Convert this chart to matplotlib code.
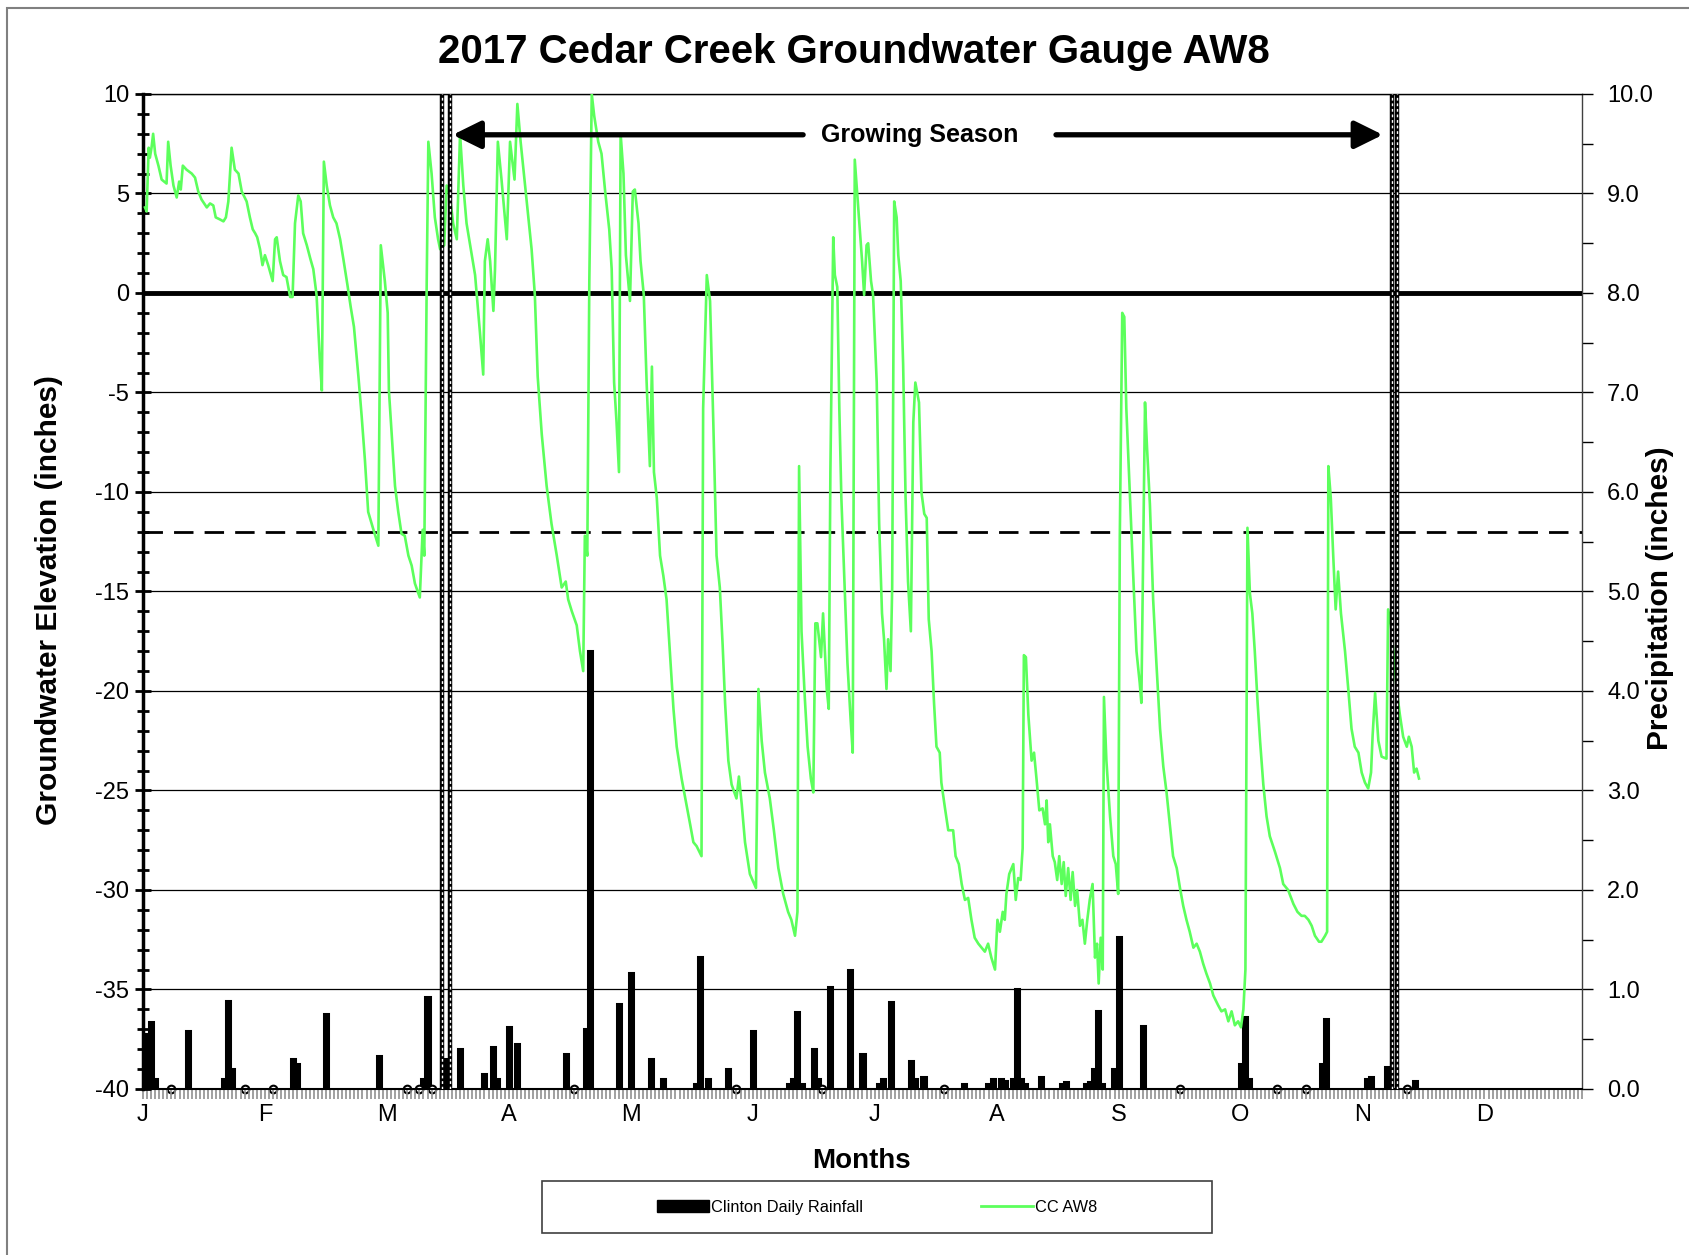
import matplotlib
matplotlib.use("Agg")
import matplotlib.pyplot as plt
from matplotlib.patches import Patch, Rectangle
from matplotlib.lines import Line2D
import numpy as np

plt.rcParams['font.family'] = ['Liberation Sans', 'DejaVu Sans']
plt.rcParams['axes.unicode_minus'] = False

# groundwater level (inches) by day of record
gw_day = [0.5, 0.9, 1.4, 1.7, 2.1, 2.5, 3.0, 3.8, 4.6, 5.8, 6.2, 6.8, 7.5, 8.3, 8.9, 9.3, 9.8, 10.7,
          12.0, 12.8, 13.6, 14.4, 15.7, 16.5, 17.3, 17.9, 18.9, 19.8, 20.4, 21.0, 21.8, 22.6, 23.5,
          24.3, 25.5, 26.3, 27.0, 27.6, 28.1, 28.8, 29.4, 30.0, 30.8, 31.9, 32.5, 32.9, 33.7, 34.5,
          35.3, 36.2, 36.8, 37.4, 38.2, 38.8, 39.4, 40.3, 41.2, 41.9, 42.7, 43.5, 44.0, 44.5, 45.2,
          46.0, 46.8, 47.6, 48.5, 49.3, 50.3, 51.1, 51.9, 53.0, 53.8, 54.6, 55.4, 56.7, 57.9, 58.5,
          59.5, 60.2, 60.5, 61.2, 62.0, 62.8, 63.6, 64.4, 65.3, 66.1, 66.9, 68.1, 68.8, 69.2, 69.8,
          70.2, 71.0, 71.8, 72.6, 73.1, 74.1, 74.7, 75.5, 76.3, 77.2, 78.0, 78.8, 79.6, 80.4, 81.7,
          82.9, 83.7, 84.1, 84.8, 85.4, 86.2, 86.6, 87.3, 88.2, 89.5, 90.3, 91.4, 92.1, 92.9, 94.0,
          94.8, 95.6, 96.4, 97.1, 98.1, 99.3, 100.5, 101.8, 103.0, 104.0, 104.6, 105.5, 106.7, 107.5,
          108.3, 108.7, 109.3, 109.8, 110.4, 111.0, 112.0, 112.8, 113.7, 114.7, 115.3, 115.9, 116.5,
          117.1, 117.5, 118.2, 118.8, 119.8, 120.5, 121.0, 121.9, 122.4, 123.2, 123.9, 124.7, 125.2,
          125.7, 126.4, 127.2, 128.0, 128.8, 129.6, 130.5, 131.3, 132.5, 133.7, 134.6, 135.4, 136.2,
          137.4, 137.8, 138.7, 139.5, 140.3, 141.1, 141.9, 142.6, 143.2, 144.0, 144.8, 146.0, 146.6,
          147.3, 148.1, 149.3, 150.8, 151.4, 152.2, 153.0, 154.2, 155.2, 156.3, 157.5, 158.7, 159.5,
          160.4, 161.0, 161.4, 162.0, 162.8, 163.5, 164.3, 164.9, 165.4, 165.9, 166.8, 167.3, 168.2,
          168.7, 169.1, 169.8, 170.2, 170.8, 171.3, 171.8, 172.5, 173.3, 174.1, 174.6, 175.1, 175.9,
          176.9, 177.4, 178.0, 178.4, 179.1, 179.6, 180.5, 181.1, 181.8, 182.3, 182.9, 183.3, 183.9,
          184.3, 184.8, 185.4, 185.8, 186.4, 187.0, 187.6, 188.2, 188.9, 189.5, 190.0, 190.9, 191.5,
          192.2, 192.8, 193.3, 194.0, 194.6, 195.2, 196.0, 196.4, 197.3, 198.1, 199.3, 199.9, 200.7,
          201.4, 202.2, 203.0, 203.8, 204.6, 205.5, 206.3, 207.1, 207.9, 208.7, 209.6, 210.2, 210.8,
          211.5, 212.0, 212.4, 213.1, 214.1, 214.7, 215.3, 215.9, 216.4, 216.7, 217.2, 217.8, 218.6,
          219.2, 219.8, 220.5, 221.3, 221.9, 222.3, 222.7, 223.1, 223.8, 224.3, 224.9, 225.4, 226.0,
          226.5, 227.0, 227.6, 228.2, 228.7, 229.3, 229.8, 230.5, 231.1, 231.7, 232.3, 232.9, 233.6,
          234.2, 234.7, 235.1, 235.6, 236.1, 236.4, 237.0, 237.9, 238.7, 239.3, 239.9, 240.3, 240.9,
          241.4, 241.9, 242.8, 243.6, 244.4, 245.2, 245.6, 246.5, 247.0, 247.7, 248.5, 249.3, 250.2,
          251.0, 251.8, 252.6, 253.4, 254.3, 255.1, 255.9, 256.7, 257.5, 258.4, 259.2, 260.0, 260.8,
          261.6, 262.5, 263.3, 264.5, 265.3, 266.2, 267.0, 267.8, 268.6, 269.4, 270.1, 270.7, 271.2,
          271.7, 272.3, 272.9, 273.5, 274.2, 274.8, 275.6, 276.4, 277.2, 278.5, 279.7, 280.5, 281.7,
          283.0, 284.0, 285.0, 285.8, 286.7, 287.5, 288.3, 289.3, 289.9, 290.8, 291.3, 291.6, 292.2,
          292.8, 293.4, 294.0, 294.7, 295.7, 296.5, 297.3, 298.1, 299.0, 299.8, 300.6, 301.4, 302.1,
          302.5, 303.1, 303.9, 304.7, 305.9, 306.3, 307.0, 307.6, 308.4, 309.2, 310.0, 310.9, 311.4,
          312.1, 312.7, 313.3, 313.9]
gw_level = [4.3, 4.1, 7.3, 6.8, 7.3, 8.0, 7.0, 6.4, 5.7, 5.5, 7.6, 6.4, 5.4, 4.8, 5.6, 5.2, 6.4, 6.2,
            6.0, 5.8, 5.1, 4.7, 4.3, 4.5, 4.4, 3.8, 3.7, 3.6, 3.8, 4.6, 7.3, 6.2, 6.0,
            5.1, 4.6, 3.8, 3.2, 3.0, 2.8, 2.2, 1.4, 1.9, 1.4, 0.6, 2.7, 2.8, 1.6, 0.9,
            0.8, -0.2, -0.2, 3.5, 4.9, 4.6, 3.0, 2.4, 1.7, 1.2, -0.1, -3.3, -4.9, 6.6, 5.4,
            4.4, 3.8, 3.5, 2.7, 1.7, 0.4, -0.7, -1.7, -4.2, -6.2, -8.4, -11.0, -11.9, -12.7, 2.4,
            0.6, -1.0, -4.9, -7.1, -9.7, -11.0, -12.1, -12.2, -13.2, -13.7, -14.6, -15.3, -11.9, -13.2, 0.6,
            7.6, 6.0, 3.8, 2.7, 2.2, 2.4, 5.4, 4.9, 3.5, 2.7, 8.0, 5.4, 3.5, 2.5, 0.9,
            -2.0, -4.1, 1.6, 2.7, 1.6, -0.9, 1.2, 7.6, 5.7, 2.7, 7.6, 5.7, 9.5, 7.6, 5.4,
            3.8, 2.2, -0.1, -4.2, -7.1, -9.7, -11.6, -13.2, -14.8, -14.5, -15.4, -16.0, -16.7, -18.0,
            -19.0, -12.2, -13.2, 0.6, 10.0, 8.9, 7.6, 7.0, 5.1, 3.2, 1.2, -4.5, -6.5,
            -9.0, 8.0, 6.0, 1.9, -0.4, 5.1, 5.2, 3.5, 1.6, -0.1, -4.5, -8.7, -3.7,
            -9.0, -10.3, -13.2, -14.2, -15.4, -18.0, -20.9, -22.8, -24.4, -25.7, -26.7, -27.6, -27.8,
            -28.3, -5.8, 0.9, -0.4, -6.5, -13.2, -14.8, -17.7, -20.6, -23.5, -24.7, -25.4, -24.3,
            -25.7, -27.6, -29.2, -29.9, -19.9, -22.5, -24.1, -25.4, -27.0, -28.9, -30.2, -31.1, -31.5,
            -32.3, -31.1, -8.7, -17.0, -20.3, -22.8, -24.4, -25.1, -16.6, -16.6, -18.3, -16.1, -19.9,
            -20.9, -9.0, 2.8, 0.9, 0.3, -5.8, -10.3, -14.2, -18.6, -21.5, -23.1, 6.7, 4.4,
            1.6, -0.1, 2.4, 2.5, 0.6, -0.1, -4.5, -11.6, -16.1, -17.4, -19.9, -17.4, -19.0,
            -14.8, 4.6, 3.8, 1.9, 0.6, -3.6, -10.3, -14.5, -17.0, -6.5, -4.5, -5.5, -10.0,
            -11.1, -11.3, -16.4, -18.0, -20.6, -22.8, -23.1, -24.6, -25.9, -27.0, -27.0, -28.3, -28.7,
            -29.7, -30.5, -30.4, -31.5, -32.4, -32.7, -32.9, -33.1, -32.7, -33.4, -34.0, -31.5, -32.1,
            -31.1, -31.5, -30.2, -29.2, -28.7, -30.5, -29.4, -29.5, -27.9, -18.2, -18.3, -21.2, -23.5,
            -23.1, -24.4, -26.0, -25.9, -26.7, -25.5, -27.6, -26.7, -28.3, -28.6, -29.5, -28.3, -29.7,
            -28.6, -30.3, -28.9, -30.5, -29.1, -30.8, -30.0, -31.8, -31.5, -32.7, -31.5, -30.5, -29.7,
            -33.4, -32.7, -34.7, -32.4, -34.0, -20.3, -23.5, -26.3, -28.3, -28.7, -30.2, -12.2, -1.0,
            -1.2, -5.8, -10.3, -14.2, -18.0, -19.6, -20.6, -5.5, -7.8, -10.6, -15.4, -18.6, -21.9,
            -23.8, -25.1, -26.7, -28.3, -28.9, -29.9, -30.8, -31.5, -32.1, -32.9, -32.7, -33.1, -33.7,
            -34.2, -34.7, -35.3, -35.8, -36.1, -36.0, -36.6, -36.1, -36.8, -36.6, -36.9, -36.0, -34.0,
            -11.8, -15.1, -16.1, -18.0, -20.6, -22.5, -24.7, -26.3, -27.3, -28.1, -28.9, -29.7, -30.0,
            -30.7, -31.1, -31.3, -31.3, -31.5, -31.8, -32.3, -32.6, -32.6, -32.3, -32.1, -8.7, -10.3,
            -13.2, -15.9, -14.0, -16.1, -18.0, -19.9, -21.9, -22.8, -23.1, -24.1, -24.6, -24.9, -24.1,
            -22.2, -20.1, -22.5, -23.3, -23.4, -15.9, -16.7, -18.0, -19.9, -21.2, -22.3, -22.8, -22.3,
            -22.8, -24.1, -23.9, -24.4]

# daily rainfall (inches)
rain_day = [1, 2, 3, 11, 20, 21, 22, 37, 38, 45, 58, 69, 70, 74, 78, 84, 86, 87, 90, 92, 104, 109,
            110, 117, 120, 125, 128, 136, 137, 139, 144, 150, 159, 160, 161, 162, 165, 166, 169, 174,
            177, 181, 182, 184, 189, 190, 192, 202, 208, 209, 211, 212, 214, 215, 216, 217, 221, 226,
            227, 232, 233, 234, 235, 236, 239, 240, 246, 270, 271, 272, 290, 291, 301, 302, 306, 313]
rain_in = [0.55, 0.67, 0.1, 0.58, 0.1, 0.88, 0.2, 0.3, 0.25, 0.75, 0.33, 0.1, 0.92, 0.3, 0.4, 0.15,
           0.42, 0.1, 0.62, 0.45, 0.35, 0.6, 4.4, 0.85, 1.17, 0.3, 0.1, 0.05, 1.33, 0.1, 0.2, 0.58,
           0.05, 0.1, 0.77, 0.05, 0.4, 0.1, 1.02, 1.2, 0.35, 0.05, 0.1, 0.87, 0.28, 0.1, 0.12, 0.05,
           0.05, 0.1, 0.1, 0.08, 0.1, 1.0, 0.1, 0.05, 0.12, 0.05, 0.07, 0.05, 0.07, 0.2, 0.78, 0.05,
           0.2, 1.53, 0.63, 0.25, 0.72, 0.1, 0.25, 0.7, 0.1, 0.12, 0.22, 0.08]
trace_day = [7, 25, 32, 65, 68, 71, 106, 146, 167, 197, 255, 279, 286, 311]

month_labels = ['J', 'F', 'M', 'A', 'M', 'J', 'J', 'A', 'S', 'O', 'N', 'D']
month_pos = [0, 30, 60, 90, 120, 150, 180, 210, 240, 270, 300, 330]
season_lines = [73.6, 75.5, 307.2, 308.5]
season_start = 76.2
season_end = 305.0
threshold = -12

green = '#5CFF5C'

fig = plt.figure(figsize=(16.9, 12.55), dpi=100)
ax = fig.add_axes([0.0846, 0.1323, 0.8515, 0.7928])
ax2 = ax.twinx()

# rainfall bars on the right axis
ax2.bar(rain_day, rain_in, width=1.0, color='black', edgecolor='black', linewidth=2.2)
ax2.plot(trace_day, [0] * len(trace_day), 'o', mfc='white', mec='black', ms=5.5, mew=1.5,
         clip_on=False, zorder=3)
ax2.set_ylim(0, 10)
ax2.set_yticks(np.arange(0, 10.5, 1))
ax2.set_yticks(np.arange(0, 10.5, 0.5), minor=True)
ax2.set_yticklabels(['%.1f' % v for v in np.arange(0, 10.5, 1)])
ax2.tick_params(axis='y', which='major', direction='out', length=8, width=1, labelsize=17, pad=10)
ax2.tick_params(axis='y', which='minor', direction='out', length=8, width=1)
for s in ['left', 'top', 'bottom']:
    ax2.spines[s].set_visible(False)
ax2.spines['right'].set_linewidth(1)
ax2.spines['right'].set_color('#404040')

ax.set_zorder(ax2.get_zorder() + 1)
ax.patch.set_visible(False)

ax.set_xlim(0, 354)
ax.set_ylim(-40, 10)
ax.grid(axis='y', which='major', color='black', lw=0.9)
ax.axhline(0, color='black', lw=3.5, zorder=2)
ax.axhline(threshold, color='black', lw=2, dashes=(7, 4), zorder=2)

ax.plot(gw_day, gw_level, color=green, lw=1.9, zorder=3)

# growing season markers
for d in season_lines:
    ax.axvline(d, color='black', lw=3.2, zorder=4)
    ax.axvline(d, color='white', lw=1.0, ls=(0, (2, 2)), zorder=5)
arrow_y = 7.95
ax.annotate('', xy=(season_start, arrow_y), xytext=(162.4, arrow_y),
            arrowprops=dict(arrowstyle='-|>,head_length=0.85,head_width=0.42', lw=3.8,
                            color='black', shrinkA=0, shrinkB=0, mutation_scale=20), zorder=6)
ax.annotate('', xy=(season_end, arrow_y), xytext=(224.6, arrow_y),
            arrowprops=dict(arrowstyle='-|>,head_length=0.85,head_width=0.42', lw=3.8,
                            color='black', shrinkA=0, shrinkB=0, mutation_scale=20), zorder=6)
ax.text(191.0, arrow_y, 'Growing Season', ha='center', va='center', fontsize=18,
        fontweight='bold', zorder=6)

ax.set_yticks(np.arange(-40, 11, 5))
ax.set_yticks(np.arange(-40, 11, 1), minor=True)
ax.tick_params(axis='y', which='major', direction='inout', length=12, width=2, labelsize=17, pad=4)
ax.tick_params(axis='y', which='minor', direction='inout', length=8, width=2)
ax.set_xticks(month_pos)
ax.set_xticklabels(month_labels)
ax.set_xticks(np.arange(0, 355, 1), minor=True)
ax.tick_params(axis='x', which='both', direction='out', length=7, width=1.2, color='#909090',
               labelsize=17, pad=4)
ax.spines['left'].set_linewidth(2.5)
ax.spines['bottom'].set_linewidth(1.5)
ax.spines['top'].set_linewidth(1)
ax.spines['right'].set_visible(False)

fig.text(0.0287, 0.522, 'Groundwater Elevation (inches)', rotation=90, ha='center', va='center',
         fontsize=21.5, fontweight='bold')
fig.text(0.982, 0.523, 'Precipitation (inches)', rotation=90, ha='center', va='center',
         fontsize=21.5, fontweight='bold')
fig.text(0.510, 0.075, 'Months', ha='center', va='center', fontsize=20, fontweight='bold')
fig.text(0.505, 0.9586, '2017 Cedar Creek Groundwater Gauge AW8', ha='center', va='center',
         fontsize=29, fontweight='bold')

# legend box below the chart
fig.patches.append(Rectangle((0.3207, 0.0175), 0.3963, 0.0415, transform=fig.transFigure,
                             fill=False, edgecolor='#404040', lw=1.2))
handles = [Patch(facecolor='black', edgecolor='black', label='Clinton Daily Rainfall'),
           Line2D([0], [0], color=green, lw=2, label='CC AW8')]
fig.legend(handles=handles, loc='center', bbox_to_anchor=(0.519, 0.0382), ncol=2,
           frameon=False, fontsize=11.8, handlelength=3.2, handletextpad=0.1,
           columnspacing=7.2)

# outer border
fig.patches.append(Rectangle((0.0044, -0.05), 1.2, 1.044, transform=fig.transFigure,
                             fill=False, edgecolor='#808080', lw=1.5))

fig.savefig('out.png', dpi=100)
